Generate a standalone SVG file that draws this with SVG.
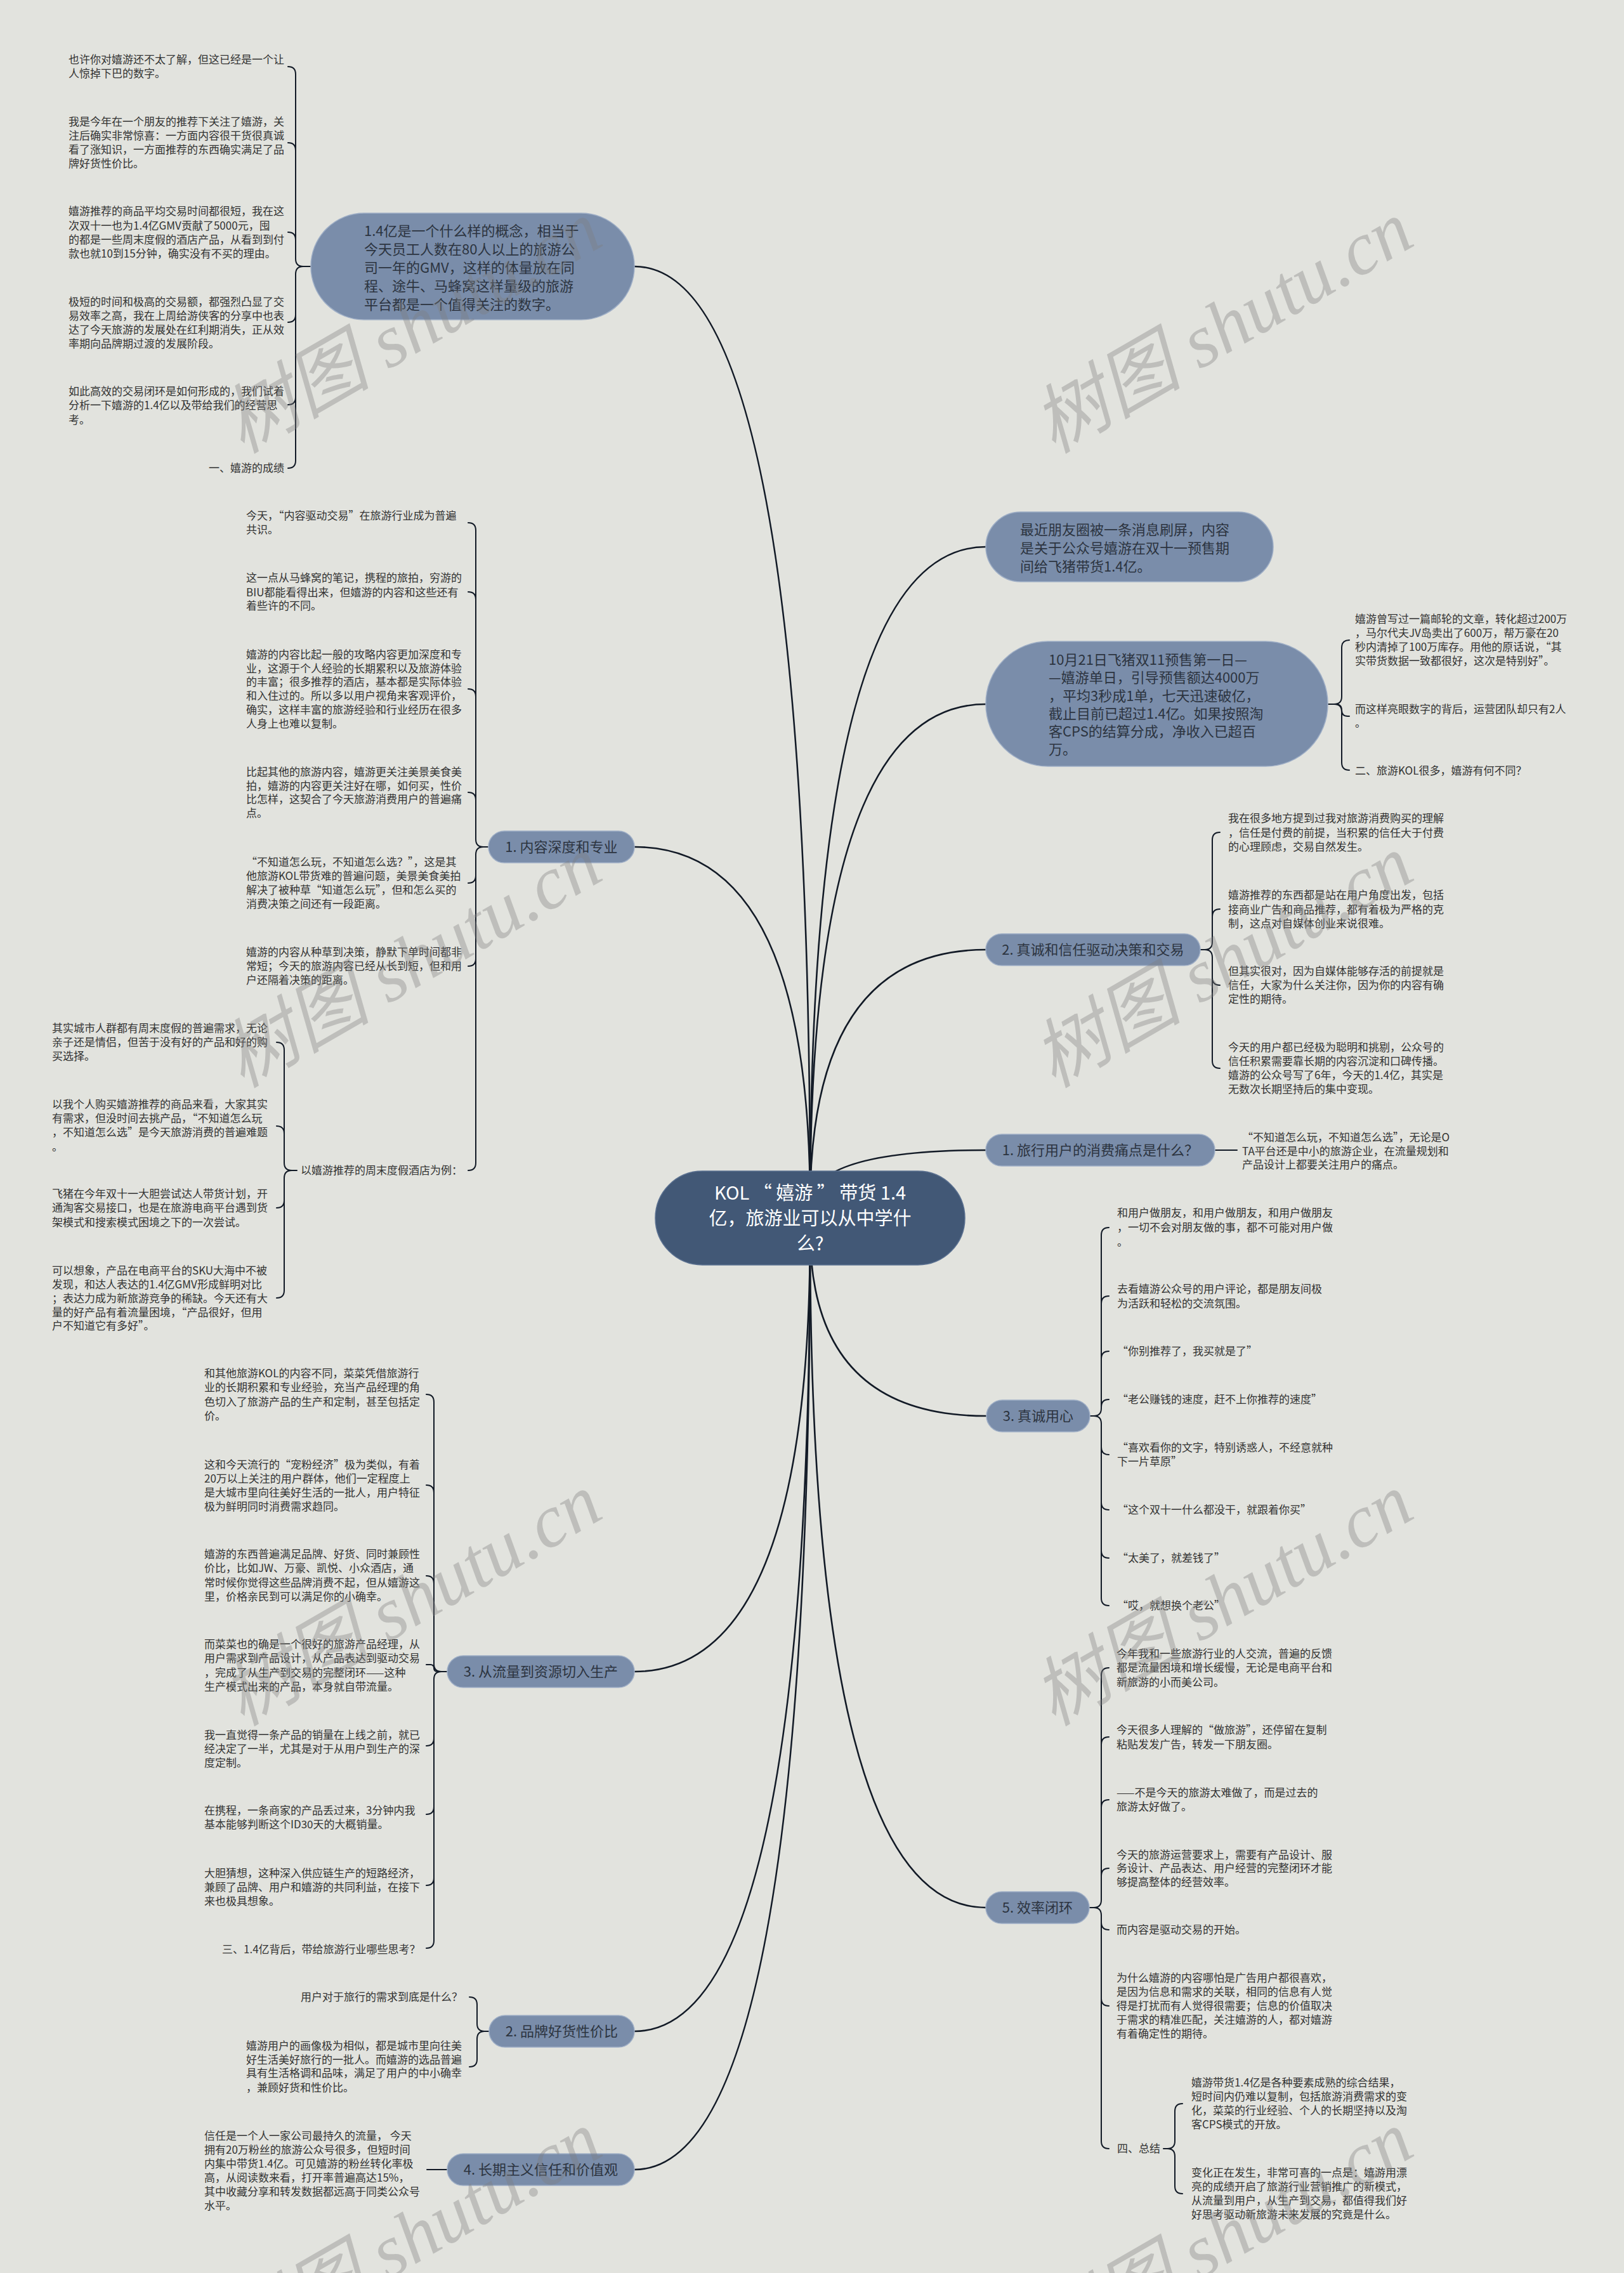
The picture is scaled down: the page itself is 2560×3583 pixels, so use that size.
<svg xmlns="http://www.w3.org/2000/svg" width="2560" height="3583" viewBox="0 0 2560 3583">
<style>
.bg{fill:#e2e3de}
.node{fill:#7a8daa;stroke:#9eaec6;stroke-width:1.5}
.center{fill:#425876;stroke:#5a7090;stroke-width:1.5}
.nt{font-family:'Noto Sans CJK SC','Liberation Sans',sans-serif;font-size:22px;fill:#2c3440}
.ct{font-family:'Noto Sans CJK SC','Liberation Sans',sans-serif;font-size:29px;fill:#ffffff;text-anchor:middle}
.t{font-family:'Noto Sans CJK SC','Liberation Sans',sans-serif;font-size:17px;fill:#333333}
.main{fill:none;stroke:#121a26;stroke-width:2.6;stroke-linecap:round}
.sub{fill:none;stroke:#121a26;stroke-width:2;stroke-linecap:round}
.wm{font-family:'Liberation Serif','Noto Sans CJK SC',serif;font-style:italic;font-size:118px;fill:#7f7f7f;opacity:0.36;text-anchor:middle}
</style>
<rect class="bg" x="0" y="0" width="2560" height="3583"/>

<g id="connectors">
  <path class="main" d="M1277 1900Q1277 420 1000 420"/>
  <path class="main" d="M1277 1900Q1277 1335 1000 1335"/>
  <path class="main" d="M1277 1900Q1277 862 1554 862"/>
  <path class="main" d="M1277 1900Q1277 1110 1554 1110"/>
  <path class="main" d="M1277 1900Q1277 1497 1554 1497"/>
  <path class="main" d="M1277 1900Q1277 1813 1554 1813"/>
  <path class="main" d="M1277 1940Q1277 2635 1000 2635"/>
  <path class="main" d="M1277 1940Q1277 3202 1000 3202"/>
  <path class="main" d="M1277 1940Q1277 3420 1000 3420"/>
  <path class="main" d="M1277 1940Q1277 2232 1554 2232"/>
  <path class="main" d="M1277 1940Q1277 3007 1554 3007"/>

  <path class="sub" d="M490 420H478Q466 420 466 408V117Q466 105 454 105M490 420H478Q466 420 466 408V237Q466 225 454 225M490 420H478Q466 420 466 408V378Q466 366 454 366M490 420H478Q466 420 466 432V496Q466 508 454 508M490 420H478Q466 420 466 432V626Q466 638 454 638M490 420H478Q466 420 466 432V726Q466 738 454 738"/>
  <path class="sub" d="M770 1335H762Q750 1335 750 1323V836Q750 824 738 824M770 1335H762Q750 1335 750 1323V945Q750 933 738 933M770 1335H762Q750 1335 750 1323V1098Q750 1086 738 1086M770 1335H762Q750 1335 750 1323V1261Q750 1249 738 1249M770 1335H762Q750 1335 750 1347V1380Q750 1392 738 1392M770 1335H762Q750 1335 750 1347V1511Q750 1523 738 1523M770 1335H762Q750 1335 750 1347V1833Q750 1845 738 1845"/>
  <path class="sub" d="M468 1845H460Q448 1845 448 1833V1655Q448 1643 436 1643M468 1845H460Q448 1845 448 1833V1787Q448 1775 436 1775M468 1845H460Q448 1845 448 1857V1892Q448 1904 436 1904M468 1845H460Q448 1845 448 1857V2034Q448 2046 436 2046"/>
  <path class="sub" d="M705 2635H696Q684 2635 684 2623V2210Q684 2198 672 2198M705 2635H696Q684 2635 684 2623V2353Q684 2341 672 2341M705 2635H696Q684 2635 684 2623V2496Q684 2484 672 2484M705 2635H689.5Q684 2635 684 2629.5Q684 2624 678.5 2624H672M705 2635H696Q684 2635 684 2647V2740Q684 2752 672 2752M705 2635H696Q684 2635 684 2647V2848Q684 2860 672 2860M705 2635H696Q684 2635 684 2647V2960Q684 2972 672 2972M705 2635H696Q684 2635 684 2647V3059Q684 3071 672 3071"/>
  <path class="sub" d="M771 3202H764Q752 3202 752 3190V3160Q752 3148 740 3148M771 3202H764Q752 3202 752 3214V3246Q752 3258 740 3258"/>
  <path class="sub" d="M705 3420H673"/>
  <path class="sub" d="M2093 1110H2103Q2115 1110 2115 1098V1021Q2115 1009 2127 1009M2093 1110H2105.5Q2115 1110 2115 1119.5Q2115 1129 2124.5 1129H2127M2093 1110H2103Q2115 1110 2115 1122V1202Q2115 1214 2127 1214"/>
  <path class="sub" d="M1892 1497H1899Q1911 1497 1911 1485V1324Q1911 1312 1923 1312M1892 1497H1899Q1911 1497 1911 1485V1445Q1911 1433 1923 1433M1892 1497H1899Q1911 1497 1911 1509V1541Q1911 1553 1923 1553M1892 1497H1899Q1911 1497 1911 1509V1672Q1911 1684 1923 1684"/>
  <path class="sub" d="M1915 1813H1950"/>
  <path class="sub" d="M1718 2232H1724Q1736 2232 1736 2220V1947Q1736 1935 1748 1935M1718 2232H1724Q1736 2232 1736 2220V2055Q1736 2043 1748 2043M1718 2232H1724Q1736 2232 1736 2220V2142Q1736 2130 1748 2130M1718 2232H1724Q1736 2232 1736 2220V2218Q1736 2206 1748 2206M1718 2232H1724Q1736 2232 1736 2244V2281Q1736 2293 1748 2293M1718 2232H1724Q1736 2232 1736 2244V2368Q1736 2380 1748 2380M1718 2232H1724Q1736 2232 1736 2244V2444Q1736 2456 1748 2456M1718 2232H1724Q1736 2232 1736 2244V2519Q1736 2531 1748 2531"/>
  <path class="sub" d="M1717 3007H1724Q1736 3007 1736 2995V2641Q1736 2629 1748 2629M1717 3007H1724Q1736 3007 1736 2995V2750Q1736 2738 1748 2738M1717 3007H1724Q1736 3007 1736 2995V2849Q1736 2837 1748 2837M1717 3007H1724Q1736 3007 1736 2995V2957Q1736 2945 1748 2945M1717 3007H1724Q1736 3007 1736 3019V3030Q1736 3042 1748 3042M1717 3007H1724Q1736 3007 1736 3019V3150Q1736 3162 1748 3162M1717 3007H1724Q1736 3007 1736 3019V3375Q1736 3387 1748 3387"/>
  <path class="sub" d="M1834 3387H1840Q1852 3387 1852 3375V3328Q1852 3316 1864 3316M1834 3387H1840Q1852 3387 1852 3399V3446Q1852 3458 1864 3458"/>
</g>

<g id="n-center">
  <rect class="center" x="1033" y="1846" width="488" height="148" rx="74"/>
  <text class="ct"><tspan x="1277" y="1891">KOL “ 嬉游 ” 带货 1.4</tspan><tspan x="1277" y="1931">亿，旅游业可以从中学什</tspan><tspan x="1277" y="1971">么?</tspan></text>
</g>

<g id="n-concept">
  <rect class="node" x="490" y="336" width="510" height="168" rx="84"/>
  <text class="nt"><tspan x="574" y="372">1.4亿是一个什么样的概念，相当于</tspan><tspan x="574" y="401">今天员工人数在80人以上的旅游公</tspan><tspan x="574" y="430">司一年的GMV，这样的体量放在同</tspan><tspan x="574" y="459">程、途牛、马蜂窝这样量级的旅游</tspan><tspan x="574" y="488">平台都是一个值得关注的数字。</tspan></text>
</g>
<g id="n-news">
  <rect class="node" x="1554" y="807" width="453" height="110" rx="55"/>
  <text class="nt"><tspan x="1608" y="843">最近朋友圈被一条消息刷屏，内容</tspan><tspan x="1608" y="872">是关于公众号嬉游在双十一预售期</tspan><tspan x="1608" y="901">间给飞猪带货1.4亿。</tspan></text>
</g>
<g id="n-1021">
  <rect class="node" x="1554" y="1011" width="539" height="197" rx="98"/>
  <text class="nt"><tspan x="1653" y="1048">10月21日飞猪双11预售第一日—</tspan><tspan x="1653" y="1076">—嬉游单日，引导预售额达4000万</tspan><tspan x="1653" y="1105">，平均3秒成1单，七天迅速破亿，</tspan><tspan x="1653" y="1133">截止目前已超过1.4亿。如果按照淘</tspan><tspan x="1653" y="1161">客CPS的结算分成，净收入已超百</tspan><tspan x="1653" y="1189">万。</tspan></text>
</g>
<g id="n-r2">
  <rect class="node" x="1554" y="1472" width="338" height="50" rx="25"/>
  <text class="nt" x="1723" y="1505" text-anchor="middle">2. 真诚和信任驱动决策和交易</text>
</g>
<g id="n-r1">
  <rect class="node" x="1554" y="1788" width="361" height="50" rx="25"/>
  <text class="nt" x="1734.5" y="1821" text-anchor="middle">1. 旅行用户的消费痛点是什么？</text>
</g>
<g id="n-r3">
  <rect class="node" x="1555" y="2207" width="163" height="50" rx="25"/>
  <text class="nt" x="1636.5" y="2240" text-anchor="middle">3. 真诚用心</text>
</g>
<g id="n-r5">
  <rect class="node" x="1554" y="2982" width="163" height="50" rx="25"/>
  <text class="nt" x="1635.5" y="3015" text-anchor="middle">5. 效率闭环</text>
</g>
<g id="n-l1">
  <rect class="node" x="770" y="1310" width="230" height="50" rx="25"/>
  <text class="nt" x="885" y="1343" text-anchor="middle">1. 内容深度和专业</text>
</g>
<g id="n-l3">
  <rect class="node" x="705" y="2610" width="295" height="50" rx="25"/>
  <text class="nt" x="852.5" y="2643" text-anchor="middle">3. 从流量到资源切入生产</text>
</g>
<g id="n-l2">
  <rect class="node" x="771" y="3177" width="229" height="50" rx="25"/>
  <text class="nt" x="885.5" y="3210" text-anchor="middle">2. 品牌好货性价比</text>
</g>
<g id="n-l4">
  <rect class="node" x="705" y="3395" width="295" height="50" rx="25"/>
  <text class="nt" x="852.5" y="3428" text-anchor="middle">4. 长期主义信任和价值观</text>
</g>

<g id="a1"><text class="t"><tspan x="108" y="100">也许你对嬉游还不太了解，但这已经是一个让</tspan><tspan x="108" y="122">人惊掉下巴的数字。</tspan></text></g>
<g id="a2"><text class="t"><tspan x="108" y="198">我是今年在一个朋友的推荐下关注了嬉游，关</tspan><tspan x="108" y="220">注后确实非常惊喜：一方面内容很干货很真诚</tspan><tspan x="108" y="242">看了涨知识，一方面推荐的东西确实满足了品</tspan><tspan x="108" y="264">牌好货性价比。</tspan></text></g>
<g id="a3"><text class="t"><tspan x="108" y="339">嬉游推荐的商品平均交易时间都很短，我在这</tspan><tspan x="108" y="362">次双十一也为1.4亿GMV贡献了5000元，囤</tspan><tspan x="108" y="384">的都是一些周末度假的酒店产品，从看到到付</tspan><tspan x="108" y="406">款也就10到15分钟，确实没有不买的理由。</tspan></text></g>
<g id="a4"><text class="t"><tspan x="108" y="482">极短的时间和极高的交易额，都强烈凸显了交</tspan><tspan x="108" y="504">易效率之高，我在上周给游侠客的分享中也表</tspan><tspan x="108" y="526">达了今天旅游的发展处在红利期消失，正从效</tspan><tspan x="108" y="548">率期向品牌期过渡的发展阶段。</tspan></text></g>
<g id="a5"><text class="t"><tspan x="108" y="623">如此高效的交易闭环是如何形成的，我们试着</tspan><tspan x="108" y="645">分析一下嬉游的1.4亿以及带给我们的经营思</tspan><tspan x="108" y="668">考。</tspan></text></g>
<g id="a6"><text class="t" x="329" y="744">一、嬉游的成绩</text></g>

<g id="b1"><text class="t"><tspan x="388" y="819">今天，“内容驱动交易”在旅游行业成为普遍</tspan><tspan x="388" y="841">共识。</tspan></text></g>
<g id="b2"><text class="t"><tspan x="388" y="917">这一点从马蜂窝的笔记，携程的旅拍，穷游的</tspan><tspan x="388" y="940">BIU都能看得出来，但嬉游的内容和这些还有</tspan><tspan x="388" y="961">着些许的不同。</tspan></text></g>
<g id="b3"><text class="t"><tspan x="388" y="1038">嬉游的内容比起一般的攻略内容更加深度和专</tspan><tspan x="388" y="1060">业，这源于个人经验的长期累积以及旅游体验</tspan><tspan x="388" y="1081">的丰富；很多推荐的酒店，基本都是实际体验</tspan><tspan x="388" y="1103">和入住过的。所以多以用户视角来客观评价，</tspan><tspan x="388" y="1125">确实，这样丰富的旅游经验和行业经历在很多</tspan><tspan x="388" y="1147">人身上也难以复制。</tspan></text></g>
<g id="b4"><text class="t"><tspan x="388" y="1223">比起其他的旅游内容，嬉游更关注美景美食美</tspan><tspan x="388" y="1245">拍，嬉游的内容更关注好在哪，如何买，性价</tspan><tspan x="388" y="1266">比怎样，这契合了今天旅游消费用户的普遍痛</tspan><tspan x="388" y="1288">点。</tspan></text></g>
<g id="b5"><text class="t"><tspan x="388" y="1365">“不知道怎么玩，不知道怎么选？”，这是其</tspan><tspan x="388" y="1387">他旅游KOL带货难的普遍问题，美景美食美拍</tspan><tspan x="388" y="1409">解决了被种草“知道怎么玩”，但和怎么买的</tspan><tspan x="388" y="1431">消费决策之间还有一段距离。</tspan></text></g>
<g id="b6"><text class="t"><tspan x="388" y="1507">嬉游的内容从种草到决策，静默下单时间都非</tspan><tspan x="388" y="1529">常短；今天的旅游内容已经从长到短，但和用</tspan><tspan x="388" y="1551">户还隔着决策的距离。</tspan></text></g>
<g id="b7"><text class="t" x="474" y="1851">以嬉游推荐的周末度假酒店为例：</text></g>

<g id="c1"><text class="t"><tspan x="82" y="1627">其实城市人群都有周末度假的普遍需求，无论</tspan><tspan x="82" y="1649">亲子还是情侣，但苦于没有好的产品和好的购</tspan><tspan x="82" y="1671">买选择。</tspan></text></g>
<g id="c2"><text class="t"><tspan x="82" y="1747">以我个人购买嬉游推荐的商品来看，大家其实</tspan><tspan x="82" y="1769">有需求，但没时间去挑产品，“不知道怎么玩</tspan><tspan x="82" y="1791">，不知道怎么选”是今天旅游消费的普遍难题</tspan><tspan x="82" y="1814">。</tspan></text></g>
<g id="c3"><text class="t"><tspan x="82" y="1888">飞猪在今年双十一大胆尝试达人带货计划，开</tspan><tspan x="82" y="1910">通淘客交易接口，也是在旅游电商平台遇到货</tspan><tspan x="82" y="1933">架模式和搜索模式困境之下的一次尝试。</tspan></text></g>
<g id="c4"><text class="t"><tspan x="82" y="2009">可以想象，产品在电商平台的SKU大海中不被</tspan><tspan x="82" y="2031">发现，和达人表达的1.4亿GMV形成鲜明对比</tspan><tspan x="82" y="2053">；表达力成为新旅游竞争的稀缺。今天还有大</tspan><tspan x="82" y="2075">量的好产品有着流量困境，“产品很好，但用</tspan><tspan x="82" y="2096">户不知道它有多好”。</tspan></text></g>

<g id="d1"><text class="t"><tspan x="322" y="2171">和其他旅游KOL的内容不同，菜菜凭借旅游行</tspan><tspan x="322" y="2193">业的长期积累和专业经验，充当产品经理的角</tspan><tspan x="322" y="2216">色切入了旅游产品的生产和定制，甚至包括定</tspan><tspan x="322" y="2238">价。</tspan></text></g>
<g id="d2"><text class="t"><tspan x="322" y="2315">这和今天流行的“宠粉经济”极为类似，有着</tspan><tspan x="322" y="2337">20万以上关注的用户群体，他们一定程度上</tspan><tspan x="322" y="2359">是大城市里向往美好生活的一批人，用户特征</tspan><tspan x="322" y="2381">极为鲜明同时消费需求趋同。</tspan></text></g>
<g id="d3"><text class="t"><tspan x="322" y="2456">嬉游的东西普遍满足品牌、好货、同时兼顾性</tspan><tspan x="322" y="2478">价比，比如JW、万豪、凯悦、小众酒店，通</tspan><tspan x="322" y="2501">常时候你觉得这些品牌消费不起，但从嬉游这</tspan><tspan x="322" y="2523">里，价格亲民到可以满足你的小确幸。</tspan></text></g>
<g id="d4"><text class="t"><tspan x="322" y="2598">而菜菜也的确是一个很好的旅游产品经理，从</tspan><tspan x="322" y="2620">用户需求到产品设计，从产品表达到驱动交易</tspan><tspan x="322" y="2643">，完成了从生产到交易的完整闭环——这种</tspan><tspan x="322" y="2665">生产模式出来的产品，本身就自带流量。</tspan></text></g>
<g id="d5"><text class="t"><tspan x="322" y="2741">我一直觉得一条产品的销量在上线之前，就已</tspan><tspan x="322" y="2763">经决定了一半，尤其是对于从用户到生产的深</tspan><tspan x="322" y="2785">度定制。</tspan></text></g>
<g id="d6"><text class="t"><tspan x="322" y="2860">在携程，一条商家的产品丢过来，3分钟内我</tspan><tspan x="322" y="2882">基本能够判断这个ID30天的大概销量。</tspan></text></g>
<g id="d7"><text class="t"><tspan x="322" y="2959">大胆猜想，这种深入供应链生产的短路经济，</tspan><tspan x="322" y="2981">兼顾了品牌、用户和嬉游的共同利益，在接下</tspan><tspan x="322" y="3003">来也极具想象。</tspan></text></g>
<g id="d8"><text class="t" x="350" y="3079">三、1.4亿背后，带给旅游行业哪些思考？</text></g>

<g id="e1"><text class="t" x="474" y="3154">用户对于旅行的需求到底是什么？</text></g>
<g id="e2"><text class="t"><tspan x="388" y="3231">嬉游用户的画像极为相似，都是城市里向往美</tspan><tspan x="388" y="3253">好生活美好旅行的一批人。而嬉游的选品普遍</tspan><tspan x="388" y="3274">具有生活格调和品味，满足了用户的中小确幸</tspan><tspan x="388" y="3297">，兼顾好货和性价比。</tspan></text></g>

<g id="f1"><text class="t"><tspan x="322" y="3373">信任是一个人一家公司最持久的流量， 今天</tspan><tspan x="322" y="3395">拥有20万粉丝的旅游公众号很多，但短时间</tspan><tspan x="322" y="3417">内集中带货1.4亿。可见嬉游的粉丝转化率极</tspan><tspan x="322" y="3439">高，从阅读数来看，打开率普遍高达15%，</tspan><tspan x="322" y="3461">其中收藏分享和转发数据都远高于同类公众号</tspan><tspan x="322" y="3483">水平。</tspan></text></g>

<g id="g1"><text class="t"><tspan x="2136" y="982">嬉游曾写过一篇邮轮的文章，转化超过200万</tspan><tspan x="2136" y="1004">，马尔代夫JV岛卖出了600万，帮万豪在20</tspan><tspan x="2136" y="1026">秒内清掉了100万库存。用他的原话说，“其</tspan><tspan x="2136" y="1048">实带货数据一致都很好，这次是特别好”。</tspan></text></g>
<g id="g2"><text class="t"><tspan x="2136" y="1124">而这样亮眼数字的背后，运营团队却只有2人</tspan><tspan x="2136" y="1146">。</tspan></text></g>
<g id="g3"><text class="t" x="2136" y="1221">二、旅游KOL很多，嬉游有何不同？</text></g>

<g id="h1"><text class="t"><tspan x="1936" y="1296">我在很多地方提到过我对旅游消费购买的理解</tspan><tspan x="1936" y="1319">，信任是付费的前提，当积累的信任大于付费</tspan><tspan x="1936" y="1341">的心理顾虑，交易自然发生。</tspan></text></g>
<g id="h2"><text class="t"><tspan x="1936" y="1417">嬉游推荐的东西都是站在用户角度出发，包括</tspan><tspan x="1936" y="1440">接商业广告和商品推荐，都有着极为严格的克</tspan><tspan x="1936" y="1462">制，这点对自媒体创业来说很难。</tspan></text></g>
<g id="h3"><text class="t"><tspan x="1936" y="1537">但其实很对，因为自媒体能够存活的前提就是</tspan><tspan x="1936" y="1559">信任，大家为什么关注你，因为你的内容有确</tspan><tspan x="1936" y="1581">定性的期待。</tspan></text></g>
<g id="h4"><text class="t"><tspan x="1936" y="1657">今天的用户都已经极为聪明和挑剔，公众号的</tspan><tspan x="1936" y="1679">信任积累需要靠长期的内容沉淀和口碑传播。</tspan><tspan x="1936" y="1701">嬉游的公众号写了6年，今天的1.4亿，其实是</tspan><tspan x="1936" y="1723">无数次长期坚持后的集中变现。</tspan></text></g>

<g id="i1"><text class="t"><tspan x="1958" y="1799">“不知道怎么玩，不知道怎么选”，无论是O</tspan><tspan x="1958" y="1821">TA平台还是中小的旅游企业，在流量规划和</tspan><tspan x="1958" y="1842">产品设计上都要关注用户的痛点。</tspan></text></g>

<g id="j1"><text class="t"><tspan x="1761" y="1918">和用户做朋友，和用户做朋友，和用户做朋友</tspan><tspan x="1761" y="1941">，一切不会对朋友做的事，都不可能对用户做</tspan><tspan x="1761" y="1964">。</tspan></text></g>
<g id="j2"><text class="t"><tspan x="1761" y="2038">去看嬉游公众号的用户评论，都是朋友间极</tspan><tspan x="1761" y="2061">为活跃和轻松的交流氛围。</tspan></text></g>
<g id="j3"><text class="t" x="1761" y="2136">“你别推荐了，我买就是了”</text></g>
<g id="j4"><text class="t" x="1761" y="2212">“老公赚钱的速度，赶不上你推荐的速度”</text></g>
<g id="j5"><text class="t"><tspan x="1761" y="2288">“喜欢看你的文字，特别诱惑人，不经意就种</tspan><tspan x="1761" y="2310">下一片草原”</tspan></text></g>
<g id="j6"><text class="t" x="1761" y="2386">“这个双十一什么都没干，就跟着你买”</text></g>
<g id="j7"><text class="t" x="1761" y="2462">“太美了，就差钱了”</text></g>
<g id="j8"><text class="t" x="1761" y="2537">“哎，就想换个老公”</text></g>

<g id="k1"><text class="t"><tspan x="1760" y="2613">今年我和一些旅游行业的人交流，普遍的反馈</tspan><tspan x="1760" y="2635">都是流量困境和增长缓慢，无论是电商平台和</tspan><tspan x="1760" y="2658">新旅游的小而美公司。</tspan></text></g>
<g id="k2"><text class="t"><tspan x="1760" y="2733">今天很多人理解的“做旅游”，还停留在复制</tspan><tspan x="1760" y="2756">粘贴发发广告，转发一下朋友圈。</tspan></text></g>
<g id="k3"><text class="t"><tspan x="1760" y="2832">——不是今天的旅游太难做了，而是过去的</tspan><tspan x="1760" y="2854">旅游太好做了。</tspan></text></g>
<g id="k4"><text class="t"><tspan x="1760" y="2930">今天的旅游运营要求上，需要有产品设计、服</tspan><tspan x="1760" y="2951">务设计、产品表达、用户经营的完整闭环才能</tspan><tspan x="1760" y="2973">够提高整体的经营效率。</tspan></text></g>
<g id="k5"><text class="t" x="1760" y="3048">而内容是驱动交易的开始。</text></g>
<g id="k6"><text class="t"><tspan x="1760" y="3124">为什么嬉游的内容哪怕是广告用户都很喜欢，</tspan><tspan x="1760" y="3146">是因为信息和需求的关联，相同的信息有人觉</tspan><tspan x="1760" y="3168">得是打扰而有人觉得很需要；信息的价值取决</tspan><tspan x="1760" y="3190">于需求的精准匹配，关注嬉游的人，都对嬉游</tspan><tspan x="1760" y="3212">有着确定性的期待。</tspan></text></g>
<g id="k7"><text class="t" x="1761" y="3393">四、总结</text></g>

<g id="l1"><text class="t"><tspan x="1878" y="3289">嬉游带货1.4亿是各种要素成熟的综合结果，</tspan><tspan x="1878" y="3311">短时间内仍难以复制，包括旅游消费需求的变</tspan><tspan x="1878" y="3333">化，菜菜的行业经验、个人的长期坚持以及淘</tspan><tspan x="1878" y="3355">客CPS模式的开放。</tspan></text></g>
<g id="l2"><text class="t"><tspan x="1878" y="3431">变化正在发生，非常可喜的一点是：嬉游用漂</tspan><tspan x="1878" y="3453">亮的成绩开启了旅游行业营销推广的新模式，</tspan><tspan x="1878" y="3475">从流量到用户，从生产到交易，都值得我们好</tspan><tspan x="1878" y="3497">好思考驱动新旅游未来发展的究竟是什么。</tspan></text></g>

<g id="watermark">
  <text class="wm" x="651" y="555" transform="rotate(-30 651 520)">树图 shutu.cn</text>
  <text class="wm" x="1930" y="555" transform="rotate(-30 1930 520)">树图 shutu.cn</text>
  <text class="wm" x="651" y="1555" transform="rotate(-30 651 1520)">树图 shutu.cn</text>
  <text class="wm" x="1930" y="1555" transform="rotate(-30 1930 1520)">树图 shutu.cn</text>
  <text class="wm" x="651" y="2561" transform="rotate(-30 651 2526)">树图 shutu.cn</text>
  <text class="wm" x="1930" y="2561" transform="rotate(-30 1930 2526)">树图 shutu.cn</text>
  <text class="wm" x="651" y="3566" transform="rotate(-30 651 3531)">树图 shutu.cn</text>
  <text class="wm" x="1930" y="3566" transform="rotate(-30 1930 3531)">树图 shutu.cn</text>
</g>
</svg>
